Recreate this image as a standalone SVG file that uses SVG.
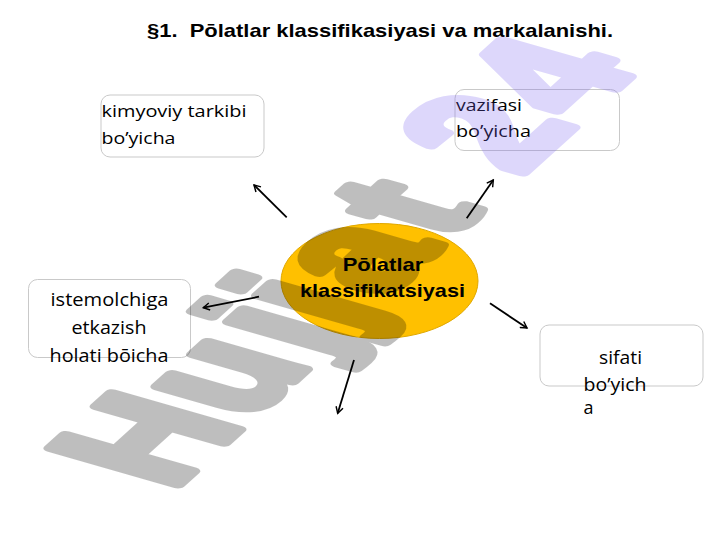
<svg xmlns="http://www.w3.org/2000/svg" width="720" height="540" viewBox="0 0 720 540">
<defs>
<style>
.box{fill:#fff;stroke:#c9c9c9;stroke-width:1}
.bt{font-family:"Open Sans","Noto Sans",sans-serif;font-size:16.5px;fill:#000}
.bt2{font-family:"Open Sans","Noto Sans",sans-serif;font-size:18px;fill:#000}
.title{font-family:"Liberation Sans",Arial,sans-serif;font-weight:bold;font-size:19px;fill:#000}
.ct{font-family:"Liberation Sans",Arial,sans-serif;font-weight:bold;font-size:18.5px;fill:#000}
.arr{stroke:#000;stroke-width:1.8;fill:none;marker-end:url(#ah)}
</style>
<marker id="ah" viewBox="0 0 10 10" refX="8" refY="5" markerWidth="5" markerHeight="5" orient="auto" markerUnits="strokeWidth">
<path d="M1,1 L8,5 L1,9" fill="none" stroke="#000" stroke-width="1.6"/>
</marker>
</defs>
<rect width="720" height="540" fill="#fff"/>
<text class="title" x="147" y="36.5" textLength="466" lengthAdjust="spacingAndGlyphs" xml:space="preserve">§1.  Pōlatlar klassifikasiyasi va markalanishi.</text>
<g id="node-kimyoviy">
<rect class="box" x="101" y="95" width="163" height="62" rx="9"/>
<text class="bt" x="101.5" y="117" textLength="145" lengthAdjust="spacingAndGlyphs">kimyoviy tarkibi</text>
<text class="bt" x="101.5" y="144" textLength="74" lengthAdjust="spacingAndGlyphs">bo’yicha</text>
</g>
<g id="node-vazifasi">
<rect class="box" x="455" y="89.5" width="164.5" height="61" rx="9"/>
<text class="bt" x="456" y="110.5" textLength="66" lengthAdjust="spacingAndGlyphs">vazifasi</text>
<text class="bt" x="456" y="137" textLength="75" lengthAdjust="spacingAndGlyphs">bo’yicha</text>
</g>
<g id="node-istemolchiga">
<rect class="box" x="28.5" y="279.5" width="162" height="78" rx="9"/>
<text class="bt2" x="50.5" y="306" textLength="118" lengthAdjust="spacingAndGlyphs">istemolchiga</text>
<text class="bt2" x="71.5" y="334" textLength="75" lengthAdjust="spacingAndGlyphs">etkazish</text>
<text class="bt2" x="49.5" y="361.5" textLength="119" lengthAdjust="spacingAndGlyphs">holati bōicha</text>
</g>
<g id="node-sifati">
<rect class="box" x="540" y="325" width="163" height="61" rx="9"/>
<text class="bt2" x="599" y="364" textLength="43" lengthAdjust="spacingAndGlyphs">sifati</text>
<text class="bt2" x="583.5" y="390.5" textLength="63" lengthAdjust="spacingAndGlyphs">bo’yich</text>
<text class="bt2" x="583.5" y="414">a</text>
</g>
<g id="node-center">
<ellipse cx="379.5" cy="281" rx="98.5" ry="57.5" fill="#ffc000" stroke="#e0a800" stroke-width="1"/>
<text class="ct" x="342.7" y="271" textLength="80.6" lengthAdjust="spacingAndGlyphs">Pōlatlar</text>
<text class="ct" x="300" y="297.3" textLength="165" lengthAdjust="spacingAndGlyphs">klassifikatsiyasi</text>
</g>
<g id="connectors">
<line class="arr" x1="286.7" y1="217.3" x2="254" y2="185"/>
<line class="arr" x1="466.7" y1="218.3" x2="493.3" y2="180"/>
<line class="arr" x1="259" y1="296.7" x2="203.3" y2="307.7"/>
<line class="arr" x1="490" y1="303.3" x2="527" y2="328"/>
<line class="arr" x1="354" y1="360" x2="337.7" y2="413.3"/>
</g>
<g id="watermark" opacity="0.25">
<text transform="matrix(1.04 -0.94 1.85 0.53 171 491)" x="0 75 143 171 205 267 335 395" y="0" font-family="Liberation Sans, Arial, sans-serif" font-weight="bold" font-size="100" stroke-width="7" stroke-linejoin="round"><tspan fill="#000" stroke="#000">Hujjat</tspan><tspan fill="#7b63f3" stroke="#7b63f3">24</tspan></text>
</g>
</svg>
